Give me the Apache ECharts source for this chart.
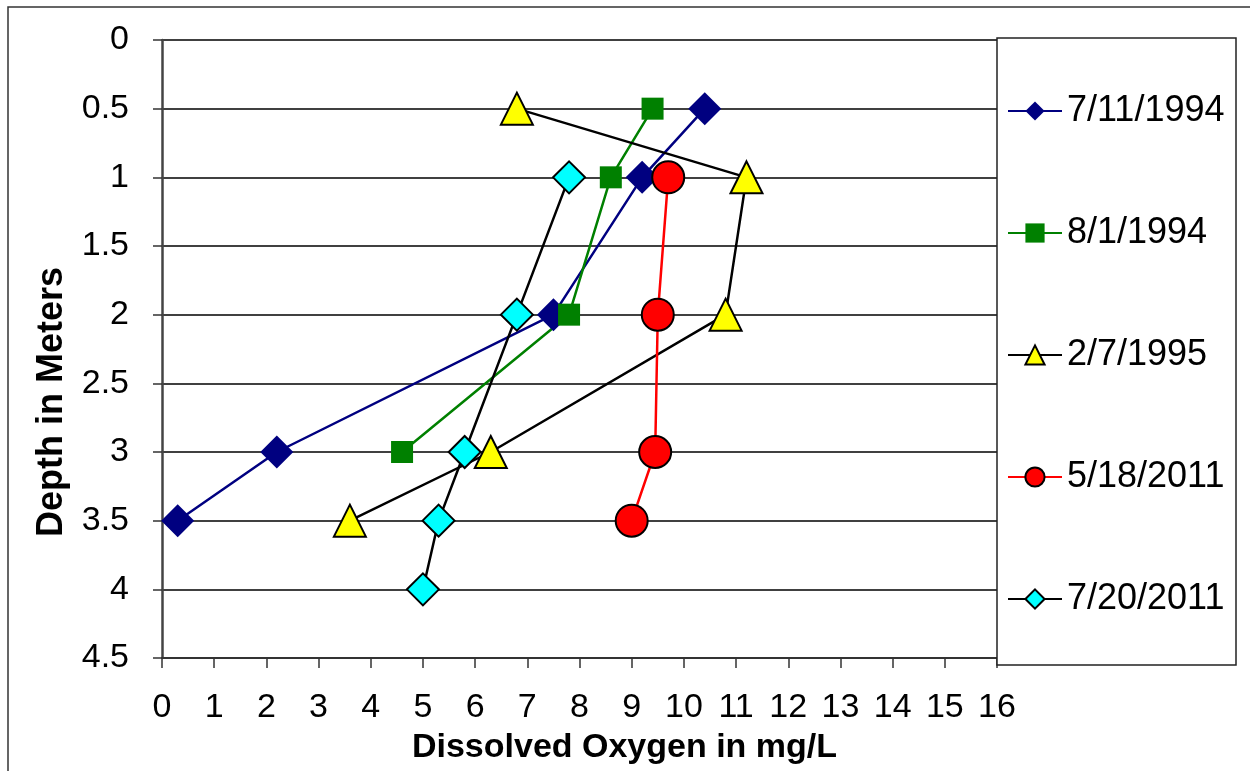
<!DOCTYPE html>
<html>
<head>
<meta charset="utf-8">
<script src="https://cdn.jsdelivr.net/npm/echarts@6/dist/echarts.min.js"></script>
<style>
  html, body { margin: 0; padding: 0; background: #fff; }
  #chart { width: 1250px; height: 771px; }
</style>
</head>
<body>
<div id="chart"></div>
<script>
// dissolved oxygen (mg/L) vs depth (m)
var seriesNames = ['7/11/1994', '8/1/1994', '2/7/1995', '5/18/2011', '7/20/2011'];

var depth0711 = [0.5, 1, 2, 3, 3.5];
var oxygen0711 = [10.4, 9.2, 7.5, 2.2, 0.3];

var depth0801 = [0.5, 1, 2, 3];
var oxygen0801 = [9.4, 8.6, 7.8, 4.6];

var depth0207 = [0.5, 1, 2, 3, 3.5];
var oxygen0207 = [6.8, 11.2, 10.8, 6.3, 3.6];

var depth0518 = [1, 2, 3, 3.5];
var oxygen0518 = [9.7, 9.5, 9.45, 9.0];

var depth0720 = [1, 2, 3, 3.5, 4];
var oxygen0720 = [7.8, 6.8, 5.8, 5.3, 5.0];

var xTicks = [0, 16, 1];   // min, max, step
var yTicks = [0, 4.5, 0.5];

var arial = "'Liberation Sans', Arial, sans-serif";

function pairs(xs, ys) {
  return xs.map(function (x, i) { return [x, ys[i]]; });
}

var chart = echarts.init(document.getElementById('chart'), null, { renderer: 'canvas' });

var option = {
  animation: false,
  backgroundColor: '#ffffff',
  grid: { left: 162, right: 253, top: 40, bottom: 113, show: false, outerBoundsMode: 'none', containLabel: false },
  graphic: [
    // outer frame (top + left edge of the figure box)
    { type: 'polyline', shape: { points: [[8, 771], [8, 7], [1250, 7]] },
      style: { stroke: '#333', lineWidth: 1.5, fill: null }, z: 0 },
    // legend box
    { type: 'rect', shape: { x: 997, y: 38, width: 239, height: 627 },
      style: { stroke: '#222', lineWidth: 1.5, fill: '#fff' }, z: 1 }
  ],
  legend: {
    orient: 'vertical',
    left: 1002,
    top: 88,
    itemWidth: 54,
    itemHeight: 24,
    itemGap: 86,
    textStyle: { fontFamily: arial, fontSize: 36, color: '#000' },
    data: seriesNames,
    z: 5
  },
  xAxis: {
    type: 'value',
    min: xTicks[0], max: xTicks[1], interval: xTicks[2],
    name: 'Dissolved Oxygen in mg/L',
    nameLocation: 'middle',
    nameGap: 73,
    nameTextStyle: { fontFamily: arial, fontWeight: 'bold', fontSize: 34, color: '#000', padding: [0, 0, 0, 90] },
    axisLine: { show: true, onZero: false, lineStyle: { color: '#333', width: 2 } },
    axisTick: { show: true, inside: false, length: 10, lineStyle: { color: '#333', width: 1.5 } },
    axisLabel: { margin: 33, fontFamily: arial, fontSize: 34, color: '#000' },
    splitLine: { show: false }
  },
  yAxis: {
    type: 'value',
    inverse: true,
    min: yTicks[0], max: yTicks[1], interval: yTicks[2],
    name: 'Depth in Meters',
    nameLocation: 'middle',
    nameGap: 92,
    nameRotate: 90,
    nameTextStyle: { fontFamily: arial, fontWeight: 'bold', fontSize: 36, color: '#000', padding: [0, 106, 0, 0] },
    axisLine: { show: true, onZero: false, lineStyle: { color: '#444', width: 2.5 } },
    axisTick: { show: true, inside: false, length: 9, lineStyle: { color: '#333', width: 1.5 } },
    axisLabel: { margin: 33, fontFamily: arial, fontSize: 34, color: '#000' },
    splitLine: { show: true, lineStyle: { color: '#000', width: 1.5 } }
  },
  series: [
    {
      name: seriesNames[0], type: 'line', data: pairs(oxygen0711, depth0711),
      symbol: 'diamond', symbolSize: 33,
      lineStyle: { color: '#000080', width: 2.5 },
      itemStyle: { color: '#000080', borderWidth: 0 }
    },
    {
      name: seriesNames[1], type: 'line', data: pairs(oxygen0801, depth0801),
      symbol: 'rect', symbolSize: 22,
      lineStyle: { color: '#008000', width: 2.5 },
      itemStyle: { color: '#008000', borderWidth: 0 }
    },
    {
      name: seriesNames[2], type: 'line', data: pairs(oxygen0207, depth0207),
      symbol: 'triangle', symbolSize: [32, 32],
      lineStyle: { color: '#000', width: 2.5 },
      itemStyle: { color: '#ffff00', borderColor: '#000', borderWidth: 2 }
    },
    {
      name: seriesNames[3], type: 'line', data: pairs(oxygen0518, depth0518),
      symbol: 'circle', symbolSize: 32,
      lineStyle: { color: '#ff0000', width: 2.5 },
      itemStyle: { color: '#ff0000', borderColor: '#000', borderWidth: 2 }
    },
    {
      name: seriesNames[4], type: 'line', data: pairs(oxygen0720, depth0720),
      symbol: 'diamond', symbolSize: 32,
      lineStyle: { color: '#000', width: 2.5 },
      itemStyle: { color: '#00ffff', borderColor: '#000', borderWidth: 2 }
    }
  ]
};

chart.setOption(option);
</script>
</body>
</html>
